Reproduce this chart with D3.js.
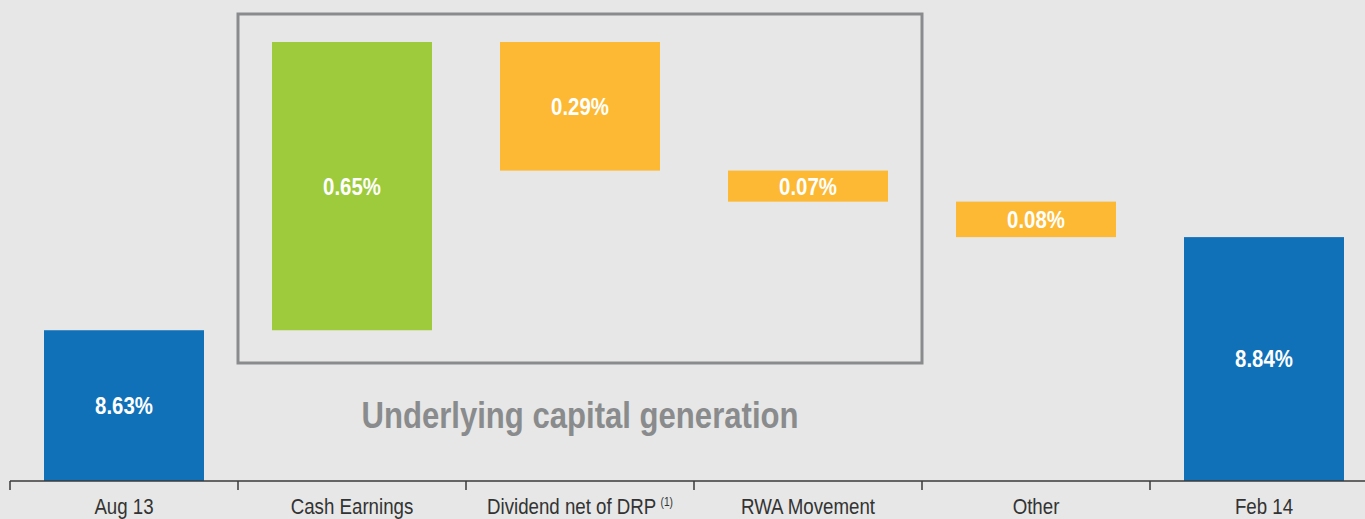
<!DOCTYPE html>
<html>
<head>
<meta charset="utf-8">
<script src="https://cdn.jsdelivr.net/npm/d3@7"></script>
<style>
  html, body { margin: 0; padding: 0; background: #e6e7e6; overflow: hidden; }
  svg { display: block; }
  text { font-family: "Liberation Sans", Arial, sans-serif; }
</style>
</head>
<body>
<div id="chart"></div>
<script>
// chart data
var categories = ["Aug 13", "Cash Earnings", "Dividend net of DRP", "RWA Movement", "Other", "Feb 14"];
var footnotes = ["", "", "(1)", "", "", ""];
var changes = [8.63, 0.65, -0.29, -0.07, -0.08, 8.84];
var kinds = ["total", "up", "down", "down", "down", "total"];
var labels = ["8.63%", "0.65%", "0.29%", "0.07%", "0.08%", "8.84%"];
var boxTitle = "Underlying capital generation";
var boxCategories = ["Cash Earnings", "RWA Movement"];

var width = 1365, height = 519;
var axisY = 481;
var squeeze = 0.85; // condensed look, no narrow font installed
var colors = { total: "#1071b9", up: "#9dcb3b", down: "#fdb933" };

// build running waterfall values
var rows = [];
var running = 0;
changes.forEach(function (c, i) {
    var lo, hi;
    if (kinds[i] === "total") {
        running = c;
        lo = null; hi = c;
    } else {
        var start = running;
        running = +(running + c).toFixed(2);
        lo = Math.min(start, running);
        hi = Math.max(start, running);
    }
    rows.push({ cat: categories[i], note: footnotes[i], kind: kinds[i], lo: lo, hi: hi, label: labels[i] });
});

var svg = d3.select("#chart").append("svg")
    .attr("width", width)
    .attr("height", height);

var x = d3.scaleBand()
    .domain(categories)
    .range([10, 1378])
    .paddingInner(0)
    .paddingOuter(0);

// the value axis is broken: it starts well above zero
var y = d3.scaleLinear()
    .domain([8.29, 9.28])
    .range([axisY, 42]);

var barW = 160;

function bottomOf(d) { return d.lo === null ? axisY : y(d.lo); }

// box around the underlying capital generation steps
var boxX0 = x(boxCategories[0]);
var boxX1 = x(boxCategories[1]) + x.bandwidth();
svg.append("rect")
    .attr("x", boxX0)
    .attr("y", 14)
    .attr("width", boxX1 - boxX0)
    .attr("height", 349)
    .attr("fill", "none")
    .attr("stroke", "#8a8b8d")
    .attr("stroke-width", 3);

svg.append("text")
    .attr("x", (boxX0 + boxX1) / 2)
    .attr("y", 428)
    .attr("text-anchor", "middle")
    .attr("fill", "#8a8b8d")
    .attr("textLength", 437)
    .attr("lengthAdjust", "spacingAndGlyphs")
    .style("font-weight", "bold")
    .style("font-size", "37px")
    .text(boxTitle);

var bars = svg.append("g").attr("class", "bars")
    .selectAll("g")
    .data(rows)
    .enter().append("g");

bars.append("rect")
    .attr("x", function (d) { return x(d.cat) + (x.bandwidth() - barW) / 2; })
    .attr("y", function (d) { return y(d.hi); })
    .attr("width", barW)
    .attr("height", function (d) { return bottomOf(d) - y(d.hi); })
    .attr("fill", function (d) { return colors[d.kind]; });

bars.append("text")
    .attr("transform", function (d) {
        var cx = x(d.cat) + x.bandwidth() / 2;
        var cy = (bottomOf(d) + y(d.hi)) / 2;
        return "translate(" + cx + "," + cy + ") scale(" + squeeze + ",1)";
    })
    .attr("dy", "0.35em")
    .attr("text-anchor", "middle")
    .attr("fill", "#ffffff")
    .style("font-weight", "bold")
    .style("font-size", "24px")
    .text(function (d) { return d.label; });

// category axis with ticks between the bands
var axisG = svg.append("g")
    .attr("class", "cat")
    .attr("transform", "translate(0," + axisY + ")");

axisG.append("line")
    .attr("x1", x.range()[0])
    .attr("x2", width)
    .attr("stroke", "#3a3a3a")
    .attr("stroke-width", 1.5);

axisG.selectAll("line.tick")
    .data(categories)
    .enter().append("line")
    .attr("class", "tick")
    .attr("x1", function (d) { return x(d); })
    .attr("x2", function (d) { return x(d); })
    .attr("y1", 0)
    .attr("y2", 9)
    .attr("stroke", "#3a3a3a")
    .attr("stroke-width", 1.5);

var catText = axisG.selectAll("text.label")
    .data(rows)
    .enter().append("text")
    .attr("class", "label")
    .attr("transform", function (d) {
        return "translate(" + (x(d.cat) + x.bandwidth() / 2) + ",33) scale(" + squeeze + ",1)";
    })
    .attr("text-anchor", "middle")
    .attr("fill", "#333333")
    .style("font-size", "22px");

catText.append("tspan").text(function (d) { return d.cat; });
catText.filter(function (d) { return d.note; })
    .append("tspan")
    .attr("dx", 5)
    .attr("dy", -8)
    .style("font-size", "12px")
    .text(function (d) { return d.note; });
</script>
</body>
</html>
